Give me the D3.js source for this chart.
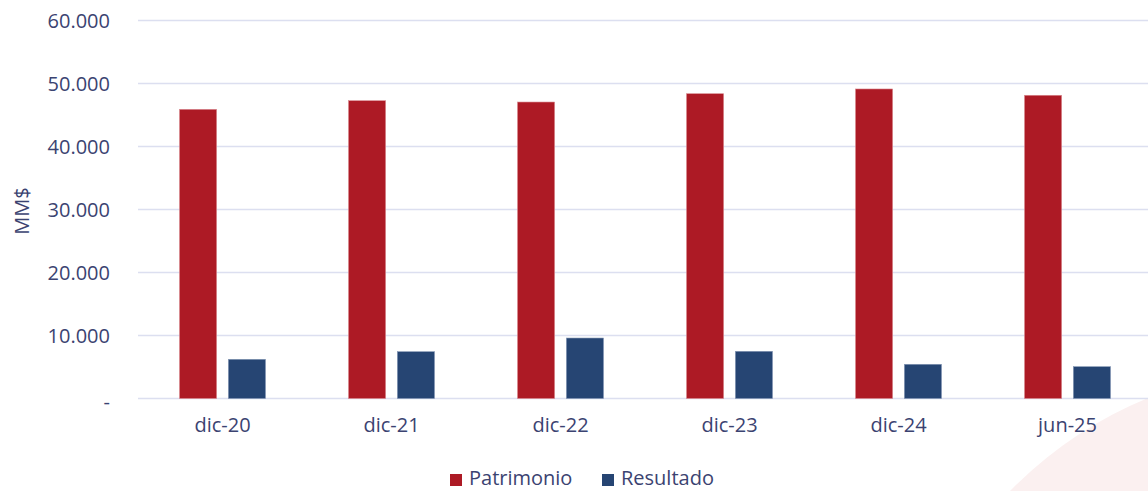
<!DOCTYPE html>
<html>
<head>
<meta charset="utf-8">
<script src="https://cdn.jsdelivr.net/npm/d3@7"></script>
<style>
  body { margin:0; background:#fff; }
  svg { display:block; font-family:"Open Sans", "Noto Sans", sans-serif; }
</style>
</head>
<body>
<svg width="1148" height="491"></svg>
<script>
const categories = ["dic-20","dic-21","dic-22","dic-23","dic-24","jun-25"];
const patrimonio = [45900, 47270, 47060, 48380, 49130, 48130];
const resultado = [6220, 7430, 9600, 7490, 5430, 5050];
const seriesNames = ["Patrimonio","Resultado"];
const yTicks = [0, 10000, 20000, 30000, 40000, 50000, 60000];

const colors = {Patrimonio:"#ad1a25", Resultado:"#264573"};
const textColor = "#3b4371";
const font = '"Open Sans", "Noto Sans", sans-serif';

const svg = d3.select("svg");

// faint watermark shape bottom right
svg.append("path")
  .attr("d","M1010,491 Q1070,430 1148,398 L1148,491 Z")
  .attr("fill","#fbf0f0");

const x = d3.scaleBand().domain(categories).range([138,1152]);
const xs = d3.scaleBand().domain(seriesNames).range([0,86]).paddingInner(0.24);
const y = d3.scaleLinear().domain([0,60000]).range([398.5,20.5]);

const fmt = d=> d===0 ? "-" : d3.format(",")(d).replace(/,/g,".");

// gridlines
svg.append("g").selectAll("line")
  .data(yTicks).enter().append("line")
  .attr("x1",138).attr("x2",1148)
  .attr("y1",d=>y(d)).attr("y2",d=>y(d))
  .attr("stroke","#dcdff0").attr("stroke-width",1.6);

// y labels
const yAxis = svg.append("g")
  .attr("transform","translate(110,0)")
  .call(d3.axisLeft(y).tickValues(yTicks).tickSize(0).tickFormat(fmt))
  .attr("font-family",font);
yAxis.select(".domain").remove();
yAxis.selectAll("text").attr("fill",textColor).attr("font-size",20).attr("x",0).attr("dy","0.36em");
yAxis.selectAll(".tick").filter(d=>d===0).select("text").attr("dy","0.5em");

svg.append("text")
  .attr("transform","translate(29,211) rotate(-90)")
  .attr("text-anchor","middle")
  .attr("fill",textColor).attr("font-size",20)
  .text("MM$");

const rows = categories.map((c,i)=>({cat:c, Patrimonio:patrimonio[i], Resultado:resultado[i]}));

const groups = svg.append("g").selectAll("g")
  .data(rows).enter().append("g")
  .attr("transform",d=>`translate(${x(d.cat)+x.bandwidth()/2-43},0)`);

groups.selectAll("rect")
  .data(d=>seriesNames.map(s=>({s:s, v:d[s]})))
  .enter().append("rect")
  .attr("x",d=>xs(d.s))
  .attr("width",xs.bandwidth())
  .attr("y",d=>y(d.v))
  .attr("height",d=>y(0)-y(d.v))
  .attr("fill",d=>colors[d.s])
  .attr("stroke",d=>d.s==="Patrimonio" ? "#d98a90" : "#8497b5")
  .attr("stroke-width",0.6);

// x labels
const xAxis = svg.append("g")
  .attr("transform","translate(0,399)")
  .call(d3.axisBottom(x).tickSize(0))
  .attr("font-family",font);
xAxis.select(".domain").remove();
xAxis.selectAll("text").attr("fill",textColor).attr("font-size",20).attr("dy","1.5em");

// legend
const legend = svg.append("g");
const legendX = [450, 602];
seriesNames.forEach((s,i)=>{
  legend.append("rect").attr("x",legendX[i]).attr("y",474).attr("width",12).attr("height",12).attr("fill",colors[s]);
  legend.append("text").attr("x",legendX[i]+19).attr("y",485)
    .attr("fill",textColor).attr("font-size",20).text(s);
});
</script>
</body>
</html>
